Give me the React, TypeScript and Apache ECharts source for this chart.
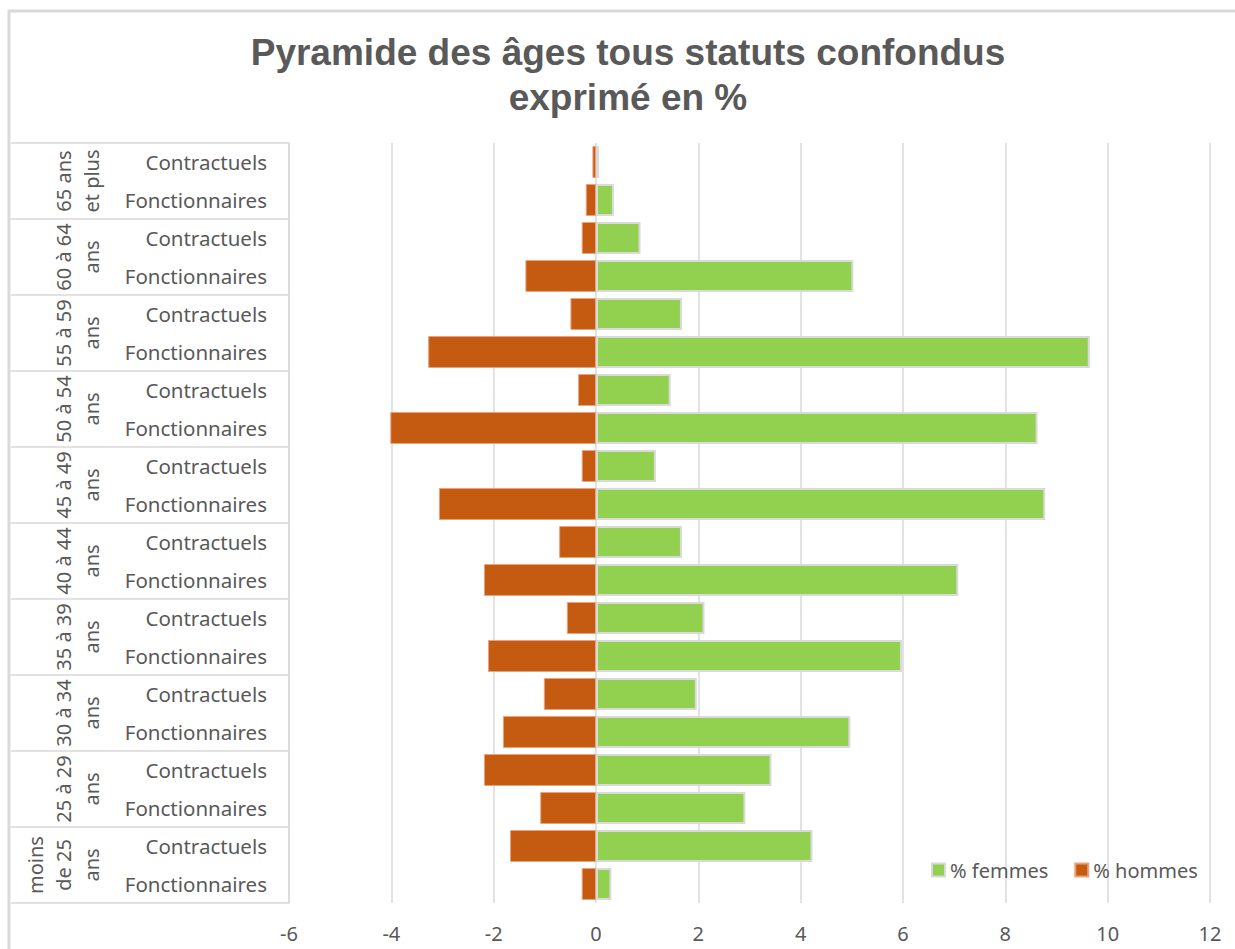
import React, { useEffect, useRef } from "react";
import * as echarts from "echarts";

const ageGroups = [
  "65 ans\net plus",
  "60 à 64\nans",
  "55 à 59\nans",
  "50 à 54\nans",
  "45 à 49\nans",
  "40 à 44\nans",
  "35 à 39\nans",
  "30 à 34\nans",
  "25 à 29\nans",
  "moins\nde 25\nans",
];
const statuts = ["Contractuels", "Fonctionnaires"];

// rows from top to bottom (Contractuels, Fonctionnaires per age group)
const femmes = [
  0.06, 0.35, 0.87, 5.03, 1.68, 9.65, 1.46, 8.63, 1.17, 8.78,
  1.68, 7.08, 2.12, 5.98, 1.97, 4.97, 3.43, 2.92, 4.23, 0.3,
];
const hommes = [
  -0.07, -0.2, -0.28, -1.38, -0.5, -3.28, -0.35, -4.02, -0.28, -3.07,
  -0.72, -2.19, -0.57, -2.11, -1.02, -1.82, -2.19, -1.09, -1.68, -0.28,
];
const xTicks = { min: -6, max: 12, interval: 2 };

const categoryKeys: string[] = [];
ageGroups.forEach((g, gi) => {
  statuts.forEach((s) => categoryKeys.push(gi + "|" + s));
});

export default function App() {
  const ref = useRef<HTMLDivElement>(null);
  useEffect(() => {
    if (!ref.current) return;
    const chart = echarts.init(ref.current, null, { renderer: "svg" });
    const gray = "#595959";
    const lineGray = "#d9d9d9";
    const labelFont = "'Noto Sans', sans-serif";
    chart.setOption({
      animation: false,
      backgroundColor: "#ffffff",
      title: {
        text: "Pyramide des âges tous statuts confondus\nexprimé en %",
        left: 623,
        top: 25,
        textAlign: "center",
        textStyle: {
          fontFamily: "'Liberation Sans', Arial, sans-serif",
          fontWeight: "bold",
          fontSize: 37,
          lineHeight: 45,
          color: gray,
          align: "center",
        },
      },
      graphic: [
        {
          type: "rect",
          shape: { x: 9, y: 11, width: 1400, height: 1100 },
          style: { fill: "none", stroke: lineGray, lineWidth: 3 },
          silent: true,
        },
      ],
      legend: {
        left: 926,
        top: 855,
        itemWidth: 13,
        itemHeight: 13,
        itemGap: 26,
        icon: "rect",
        textStyle: { fontFamily: labelFont, fontSize: 20, color: gray },
        data: ["% femmes", "% hommes"],
      },
      grid: { left: 289, right: 25, top: 143, bottom: 46, containLabel: false },
      xAxis: {
        type: "value",
        min: xTicks.min,
        max: xTicks.max,
        interval: xTicks.interval,
        axisLine: { show: false },
        axisTick: { show: false },
        splitLine: { lineStyle: { color: lineGray, width: 1.5 } },
        axisLabel: {
          fontFamily: labelFont,
          fontSize: 20,
          color: gray,
          margin: 20,
        },
      },
      yAxis: [
        {
          type: "category",
          data: categoryKeys,
          inverse: true,
          position: "left",
          axisLine: { show: false },
          axisTick: { show: false },
          splitLine: { show: false },
          axisLabel: {
            interval: 0,
            margin: 22,
            fontFamily: labelFont,
            fontSize: 20.5,
            color: gray,
            formatter: (v: string) => v.split("|")[1],
          },
        },
        {
          type: "category",
          data: ageGroups,
          inverse: true,
          position: "left",
          axisLine: { show: true, lineStyle: { color: lineGray, width: 1.5 } },
          axisTick: {
            show: true,
            interval: 0,
            length: 278,
            lineStyle: { color: lineGray, width: 1.5 },
          },
          splitLine: { show: false },
          axisLabel: {
            interval: 0,
            rotate: 90,
            margin: 184,
            fontFamily: labelFont,
            fontSize: 20,
            lineHeight: 28,
            color: gray,
          },
        },
      ],
      series: [
        {
          name: "% femmes",
          type: "bar",
          yAxisIndex: 0,
          data: femmes,
          barCategoryGap: "16%",
          barGap: "-100%",
          itemStyle: { color: "#92D050", borderColor: lineGray, borderWidth: 2 },
        },
        {
          name: "% hommes",
          type: "bar",
          yAxisIndex: 0,
          data: hommes,
          barCategoryGap: "16%",
          barGap: "-100%",
          itemStyle: { color: "#C55A11", borderColor: "#eaa27a", borderWidth: 1 },
        },
      ],
    });
    return () => chart.dispose();
  }, []);
  return (
    <div
      ref={ref}
      style={{ position: "absolute", left: 0, top: 0, width: 1235, height: 949 }}
    />
  );
}
